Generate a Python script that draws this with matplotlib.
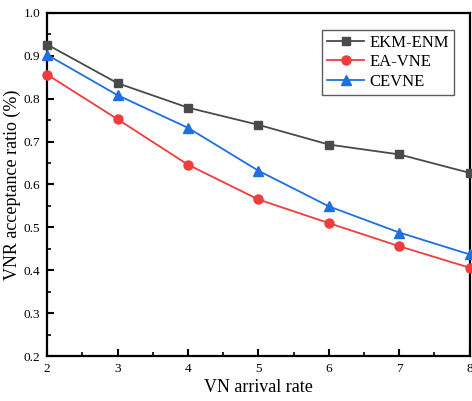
import numpy as np
import matplotlib.pyplot as plt
from matplotlib.ticker import MultipleLocator

arrival_rate = [2, 3, 4, 5, 6, 7, 8]
ekm_enm = [0.926, 0.836, 0.779, 0.739, 0.693, 0.670, 0.627]
ea_vne = [0.856, 0.752, 0.646, 0.565, 0.510, 0.456, 0.406]
cevne = [0.902, 0.808, 0.732, 0.632, 0.549, 0.488, 0.437]

plt.rcParams['font.family'] = ['Liberation Serif', 'DejaVu Serif']

fig = plt.figure(figsize=(4.72, 4.01), dpi=100)
ax = fig.add_axes([0.1, 0.112, 0.895, 0.856])

ax.plot(arrival_rate, ekm_enm, color='#4a4a4a', marker='s', markersize=6, lw=1.3, label='EKM-ENM', clip_on=False, zorder=3)
ax.plot(arrival_rate, ea_vne, color='#f03c3c', marker='o', markersize=6.5, lw=1.3, label='EA-VNE', clip_on=False, zorder=3)
ax.plot(arrival_rate, cevne, color='#1f6fe0', marker='^', markersize=7, lw=1.3, label='CEVNE', clip_on=False, zorder=3)

ax.set_xlim(2, 8)
ax.set_ylim(0.2, 1.0)
ax.xaxis.set_major_locator(MultipleLocator(1))
ax.xaxis.set_minor_locator(MultipleLocator(0.5))
ax.yaxis.set_major_locator(MultipleLocator(0.1))
ax.yaxis.set_minor_locator(MultipleLocator(0.05))
ax.tick_params(which='major', direction='in', length=5, width=1.5, labelsize=9.5, pad=5)
ax.tick_params(which='minor', direction='in', length=3, width=1.2)
ax.tick_params(which='both', top=False, right=False)
for s in ax.spines.values():
    s.set_linewidth(1.6)

ax.set_xlabel('VN arrival rate', fontsize=13, labelpad=3)
ax.set_ylabel('VNR acceptance ratio (%)', fontsize=13, labelpad=2)

leg = ax.legend(loc='upper right', bbox_to_anchor=(0.962, 0.95), borderaxespad=0, fontsize=12, frameon=True,
                fancybox=False, edgecolor='#333333', handlelength=2.2, borderpad=0.3, labelspacing=0.2,
                handletextpad=0.3)
leg.get_frame().set_linewidth(1.0)

fig.savefig('out.png', dpi=100)
